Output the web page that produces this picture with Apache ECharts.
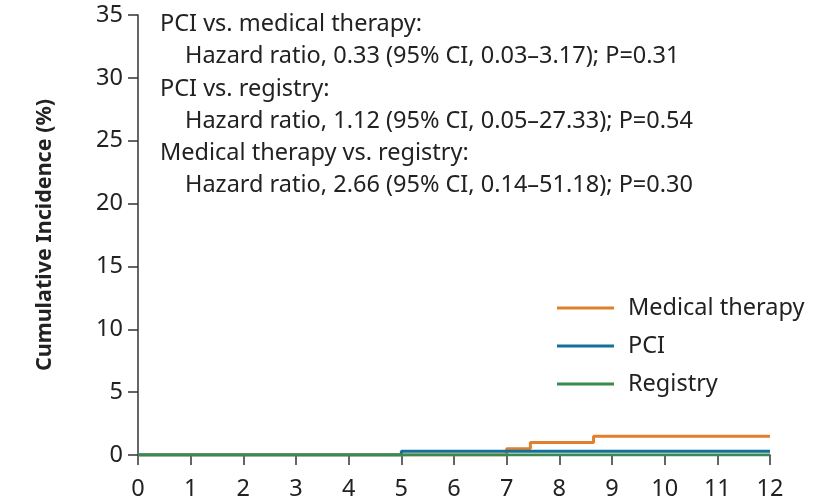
<!DOCTYPE html>
<html><head><meta charset="utf-8">
<script src="https://cdn.jsdelivr.net/npm/echarts@6/dist/echarts.min.js"></script>
<style>html,body{margin:0;padding:0;background:#fff}#c{width:833px;height:501px}</style>
</head><body><div id="c"></div>
<script>
const seriesNames = ['Medical therapy', 'PCI', 'Registry'];
const medicalTherapy = [[0, 0], [7, 0.5], [7.45, 1.0], [8.65, 1.5], [12, 1.5]];
const pci = [[0, 0], [5, 0.3], [12, 0.3]];
const registry = [[0, 0], [12, 0]];
const xTicks = [0, 1, 2, 3, 4, 5, 6, 7, 8, 9, 10, 11, 12];
const yTicks = [0, 5, 10, 15, 20, 25, 30, 35];
const annotationLines = [
  'PCI vs. medical therapy:',
  'Hazard ratio, 0.33 (95% CI, 0.03\u20133.17); P=0.31',
  'PCI vs. registry:',
  'Hazard ratio, 1.12 (95% CI, 0.05\u201327.33); P=0.54',
  'Medical therapy vs. registry:',
  'Hazard ratio, 2.66 (95% CI, 0.14\u201351.18); P=0.30'
];
const colors = ['#E0802E', '#136F9C', '#3A8A50'];
const FONT = 'Noto Sans';
const FS = 23.5;
const chart = echarts.init(document.getElementById('c'), null, {renderer: 'canvas'});
const seriesData = [medicalTherapy, pci, registry];
chart.setOption({
  animation: false,
  color: colors,
  grid: {left: 138, right: 63, top: 15, bottom: 45, containLabel: false},
  xAxis: {
    type: 'value', min: xTicks[0], max: xTicks[xTicks.length - 1], interval: 1,
    axisLine: {show: true, onZero: false, lineStyle: {color: '#333', width: 1.5}},
    axisTick: {show: true, inside: false, length: 10, lineStyle: {color: '#333', width: 1.5}},
    axisLabel: {color: '#222', fontSize: FS, fontFamily: FONT, margin: 22},
    splitLine: {show: false}
  },
  yAxis: {
    type: 'value', min: yTicks[0], max: yTicks[yTicks.length - 1], interval: 5,
    name: 'Cumulative Incidence (%)', nameLocation: 'middle', nameGap: 82,
    nameTextStyle: {color: '#222', fontSize: 21.5, fontWeight: 'bold', fontFamily: FONT},
    axisLine: {show: true, lineStyle: {color: '#333', width: 1.5}},
    axisTick: {show: true, inside: false, length: 10, lineStyle: {color: '#333', width: 1.5}},
    axisLabel: {color: '#222', fontSize: FS, fontFamily: FONT, margin: 15},
    splitLine: {show: false}
  },
  legend: {
    orient: 'vertical', left: 557, top: 296, padding: 0, itemWidth: 57, itemHeight: 3, itemGap: 14,
    icon: 'rect',
    textStyle: {color: '#222', fontSize: FS, fontFamily: FONT, padding: [0, 0, 0, 9]},
    data: seriesNames
  },
  graphic: annotationLines.map((t, i) => ({
    type: 'text', x: i % 2 === 1 ? 185 : 160, y: 24.5 + i * 32.2,
    style: {text: t, fill: '#222', font: FS + 'px "' + FONT + '"', verticalAlign: 'middle'}
  })),
  series: seriesNames.map((n, i) => ({
    name: n, type: 'line', step: 'end', data: seriesData[i], showSymbol: false, symbol: 'none',
    lineStyle: {width: 3, color: colors[i]}, z: 2 + i
  }))
});
</script></body></html>
